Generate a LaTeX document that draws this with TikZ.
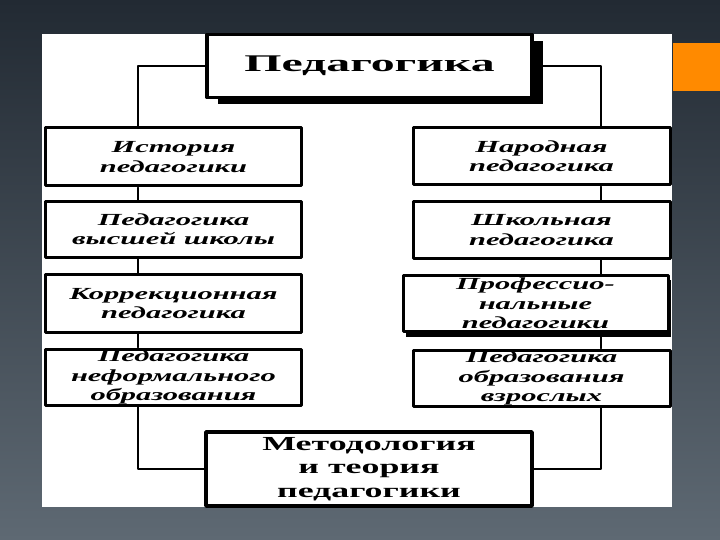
\documentclass[tikz,border=0pt]{standalone}
\usepackage{fontspec}
\setmainfont{Liberation Serif}[FakeStretch=1.8]
\newfontfamily\headfont{Liberation Serif}[FakeStretch=2.0]
\usetikzlibrary{shadows}
\definecolor{slidetop}{HTML}{222A33}
\definecolor{slidebot}{HTML}{5E6973}
\definecolor{accent}{HTML}{FF8A00}

\begin{document}
\begin{tikzpicture}[x=1bp, y=-1bp, line cap=round, line join=round]
\tikzset{box/.style={draw, line width=3bp, fill=white, inner sep=0pt, align=center, minimum width=255bp, minimum height=56bp, font=\fontsize{17}{19.5}\selectfont\bfseries\itshape},
  hbox/.style={box, line width=3.4bp, font=\headfont\fontsize{24}{28}\selectfont\bfseries},
  mbox/.style={box, line width=3.4bp, font=\fontsize{20}{23.5}\selectfont\bfseries},
  link/.style={line width=1.3bp}}

% slide
\useasboundingbox (0,0) rectangle (720,540);
\fill[top color=slidetop, bottom color=slidebot] (0,0) rectangle (720,540);
\fill[white] (42,34) rectangle (672,507);
\fill[accent] (673,43) rectangle (720,91);

% buses (px)
\coordinate (lbus) at (138,68);
\coordinate (rbus) at (601,68);

% top + bottom
\node[hbox, minimum width=325bp, minimum height=63bp, drop shadow={shadow xshift=11bp, shadow yshift=-7bp, fill=black, opacity=1}] (ped) at (369.5,66) {Педагогика};
\node[mbox, minimum width=326bp, minimum height=74bp] (meth) at (369,469) {Методология\\и теория\\педагогики};

% left column
\node[box, minimum height=58bp] (l1) at (173.5,157) {История\\педагогики};
\node[box, minimum height=55bp] (l2) at (173.5,229.5) {Педагогика\\высшей школы};
\node[box, minimum height=57bp] (l3) at (173.5,303.5) {Коррекционная\\педагогика};
\node[box] (l4) at (173.5,377) {Педагогика\\неформального\\образования};

% right column
\node[box, minimum width=257bp, minimum height=57bp] (r1) at (541.5,156.5) {Народная\\педагогика};
\node[box, minimum width=257bp] (r2) at (541.5,230) {Школьная\\педагогика};
\node[box, minimum width=265bp, drop shadow={shadow xshift=3bp, shadow yshift=-5bp, fill=black, opacity=1}] (r3) at (535.5,303.5) {Профессио-\\нальные\\педагогики};
\node[box, minimum width=257bp] (r4) at (541.5,378) {Педагогика\\образования\\взрослых};

% links
\draw[link] (ped.west) -| (l1.north -| lbus);
\draw[link] (ped.east) -| (r1.north -| rbus);
\foreach \a/\b/\bus in {l1/l2/lbus,l2/l3/lbus,l3/l4/lbus,r1/r2/rbus,r2/r3/rbus,r3/r4/rbus}{
  \draw[link] (\a.south -| \bus) -- (\b.north -| \bus);
}
\draw[link] (l4.south -| lbus) |- (meth.west);
\draw[link] (r4.south -| rbus) |- (meth.east);
\end{tikzpicture}
\end{document}
